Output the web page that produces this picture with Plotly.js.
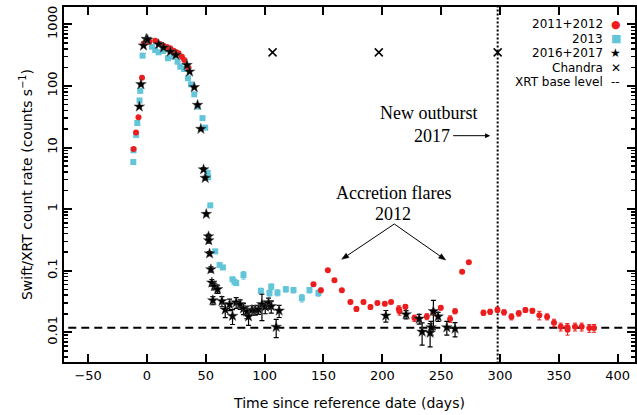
<!DOCTYPE html>
<html>
<head>
<meta charset="utf-8">
<script src="https://cdn.plot.ly/plotly-3.0.1.min.js"></script>
<style>html,body{margin:0;padding:0;background:#fff;}#chart{width:637px;height:415px;}</style>
</head>
<body>
<div id="chart"></div>
<script>
// ---- Data ----
// 2011+2012 (red circles)
const redX = [-11.4, -9.3, -7.2, -4.2, -2.9, 2.0, 7.0, 11.0, 14.1, 17.0, 19.8, 22.6, 24.5, 26.8, 29.7, 31.7, 35.3,
  141.5, 147.8, 153.7, 159.3, 165.6, 172.9, 178.0, 184.0, 189.9, 195.8, 202.1, 207.4, 214.0, 214.6, 219.6, 227.3,
  237.8, 243.4, 249.7, 257.6, 261.8, 267.8, 273.5,
  285.9, 291.6, 297.8, 303.4, 309.7, 315.9, 321.6, 327.5, 333.4, 340.0, 345.9, 351.6, 357.2, 357.4, 363.7, 369.4, 375.9, 379.9];
const redY = [9.5, 17.5, 31, 136, 490, 520, 542, 480, 450, 430, 408, 373, 355, 338, 298, 263, 197,
  0.060, 0.048, 0.102, 0.070, 0.048, 0.031, 0.024, 0.031, 0.0257, 0.030, 0.029, 0.031, 0.024, 0.022, 0.026, 0.017,
  0.018, 0.021, 0.025, 0.0165, 0.022, 0.096, 0.137,
  0.0208, 0.0216, 0.0233, 0.0211, 0.0179, 0.0203, 0.0230, 0.0224, 0.0189, 0.0179, 0.0143, 0.0123, 0.0121, 0.0110, 0.0123, 0.0123, 0.0117, 0.0117];
const redErr = [0.4, 0.6, 1, 4, 12, 12, 12, 11, 10, 10, 9, 9, 8, 8, 7, 7, 6,
  0.004, 0.004, 0.005, 0.004, 0.003, 0.002, 0.002, 0.002, 0.002, 0.002, 0.002, 0.002, 0.003, 0.003, 0.002, 0.002,
  0.002, 0.002, 0.002, 0.002, 0.002, 0.005, 0.006,
  0.002, 0.002, 0.0022, 0.002, 0.002, 0.002, 0.002, 0.002, 0.003, 0.002, 0.002, 0.0018, 0.0018, 0.002, 0.0018, 0.0018, 0.0017, 0.0017];

// 2013 (cyan squares)
const cyanX = [-11.6, -11.4, -9.2, -8.2, -6.3, -5.7, -3.7, 4.2, 7.0, 9.9, 13.6, 17.8, 22.6, 26.0, 28.3, 31.7, 34.8, 37.4, 40.2, 43.0,
  47.2, 49.5, 51.5, 52.0, 53.8, 58.0, 61.7, 64.5, 72.7, 74.4, 75.8, 82.0, 96.8, 104.1, 105.6, 110.9, 118.0, 124.5, 131.6, 138.1, 145.7];
const cyanY = [5.8, 9.0, 16, 25, 58, 83, 310, 433, 383, 351, 369, 281, 298, 247, 205, 188, 133, 106, 73, 46,
  30, 21, 3.9, 3.3, 1.15, 0.206, 0.124, 0.113, 0.0725, 0.066, 0.063, 0.085, 0.047, 0.0435, 0.055, 0.044, 0.050, 0.0485, 0.036, 0.0485, 0.0435];
const cyanErr = [0.3, 0.4, 0.6, 1, 2, 3, 8, 10, 9, 8, 8, 7, 7, 6, 5, 5, 4, 3, 2, 1.5,
  1, 0.8, 0.2, 0.2, 0.06, 0.012, 0.008, 0.007, 0.006, 0.005, 0.005, 0.012, 0.005, 0.005, 0.006, 0.005, 0.005, 0.005, 0.005, 0.005, 0.005];

// 2016+2017 (black stars)
const starX = [-6.5, -5.1, -2.9, -0.6, 0.5, 9.9, 14.1, 19.8, 24.6, 34.0, 36.2, 40.2, 43.0, 45.8, 48.1, 49.5,
  50.4, 52.3, 52.5, 53.2, 54.3, 55.1, 57.2, 60.0, 56.0, 63.7, 66.5, 70.2, 72.7, 75.8, 79.2, 82.0, 84.9, 86.3,
  89.2, 92.0, 94.8, 97.7, 100.5, 103.3, 105.6, 109.8, 112.3,
  203.0, 220.2, 231.3, 233.8, 240.6, 241.4, 243.4, 247.4, 254.8, 261.8];
const starY = [46, 106, 450, 578, 560, 473, 417, 359, 317, 218, 170, 95, 49, 20, 4.4, 3.2,
  0.83, 0.36, 0.31, 0.19, 0.105, 0.064, 0.056, 0.050, 0.033, 0.032, 0.0233, 0.0285, 0.0184, 0.0305, 0.0285, 0.0243, 0.0216, 0.018,
  0.023, 0.023, 0.0235, 0.0285, 0.026, 0.030, 0.0265, 0.0122, 0.0224,
  0.0186, 0.0195, 0.0166, 0.0102, 0.0098, 0.0120, 0.022, 0.018, 0.0120, 0.0114];
const starErr = [1, 3, 12, 15, 15, 12, 10, 9, 8, 6, 5, 3, 2, 1, 0.3, 0.2,
  0.05, 0.03, 0.03, 0.015, 0.01, 0.008, 0.007, 0.007, 0.005, 0.006, 0.006, 0.006, 0.005, 0.006, 0.005, 0.005, 0.005, 0.005,
  0.004, 0.004, 0.004, 0.013, 0.006, 0.006, 0.006, 0.004, 0.005,
  0.004, 0.003, 0.003, 0.004, 0.004, 0.003, 0.011, 0.003, 0.003, 0.003];

// Chandra observations
const chandraX = [106.7, 197.0, 298.0];
const chandraY = [350, 350, 350];

// Reference levels
const xrtBaseLevel = 0.0119;
const outburstDay = 298;

// Axis tick labels
const xTickVals = [-50, 0, 50, 100, 150, 200, 250, 300, 350, 400];
const yTickVals = [0.01, 0.1, 1, 10, 100, 1000];
const yTickText = ['0.01', '0.1', '1', '10', '100', '1000'];

// Legend labels
const legendLabels = ['2011+2012', '2013', '2016+2017', 'Chandra', 'XRT base level'];

// ---- Styling ----
const RED = '#ee1d1d';
const CYAN = '#62c5d9';
const tickFont = {family: 'DejaVu Sans', size: 13, color: '#000'};

const traces = [
  {x: [-100, 500], y: [xrtBaseLevel, xrtBaseLevel], mode: 'lines', type: 'scatter',
   line: {color: '#000', width: 2, dash: '8px,5px'}, hoverinfo: 'skip'},
  {x: [outburstDay, outburstDay], y: [0.0001, 100000], mode: 'lines', type: 'scatter',
   line: {color: '#000', width: 2, dash: '2px,2px'}, hoverinfo: 'skip'},
  {x: cyanX, y: cyanY, mode: 'markers', type: 'scatter',
   marker: {symbol: 'square', color: CYAN, size: 6},
   error_y: {type: 'data', array: cyanErr, color: CYAN, thickness: 1, width: 2}},
  {x: redX, y: redY, mode: 'markers', type: 'scatter',
   marker: {symbol: 'circle', color: RED, size: 6},
   error_y: {type: 'data', array: redErr, color: RED, thickness: 1, width: 2}},
  {x: starX, y: starY, mode: 'markers', type: 'scatter',
   marker: {symbol: 'star', color: '#000', size: 8, line: {width: 0.5, color: '#444'}},
   error_y: {type: 'data', array: starErr, color: '#000', thickness: 1.2, width: 2.5}},
  {x: chandraX, y: chandraY, mode: 'markers', type: 'scatter',
   marker: {symbol: 'x-thin-open', color: '#000', size: 8, line: {width: 1.5, color: '#000'}}}
];

// layout helpers: pixel -> paper coordinates of the plot area (64..635, 7..362)
const PL = 64, PW = 571, PB = 362, PH = 355;
const px = v => (v - PL) / PW;
const py = v => (PB - v) / PH;
function arrowShapes(x0, y0, x1, y1) {
  const dx = x1 - x0, dy = y1 - y0, len = Math.hypot(dx, dy);
  const ux = dx / len, uy = dy / len, hl = 7, hw = 2.6;
  const bx = x1 - hl * ux, by = y1 - hl * uy;
  const nx = -uy * hw, ny = ux * hw;
  return [
    {type: 'line', xref: 'paper', yref: 'paper', x0: px(x0), y0: py(y0), x1: px(bx), y1: py(by),
     line: {color: '#000', width: 1}},
    {type: 'path', xref: 'paper', yref: 'paper',
     path: `M${px(x1)},${py(y1)} L${px(bx + nx)},${py(by + ny)} L${px(bx - nx)},${py(by - ny)} Z`,
     fillcolor: '#000', line: {color: '#000', width: 0.5}}
  ];
}
const shapes = [].concat(arrowShapes(394.3, 224, 341.7, 259.3), arrowShapes(394.3, 224, 445.7, 260));

const serif = {family: 'Liberation Serif', size: 18, color: '#000'};
const legendRowsY = [0.9513, 0.9099, 0.8696, 0.8273, 0.7896];
const legendSyms = [
  {t: '●', c: RED, s: 11},
  {t: '■', c: CYAN, s: 11},
  {t: '★', c: '#000', s: 12},
  {t: '✕', c: '#000', s: 12},
  {t: '--', c: '#000', s: 12}
];
const annotations = [
  {x: 209.2, y: 0.261, xref: 'x', yref: 'y', text: 'Accretion flares', showarrow: false, font: serif},
  {x: 209.2, y: -0.08, xref: 'x', yref: 'y', text: '2012', showarrow: false, font: serif},
  {x: 239.7, y: 1.555, xref: 'x', yref: 'y', text: 'New outburst', showarrow: false, font: serif},
  {x: 291.6, y: 1.192, xref: 'x', yref: 'y', text: '2017', showarrow: true, ax: -58.5, ay: 0, font: serif,
   arrowhead: 2, arrowsize: 1, arrowwidth: 1, arrowcolor: '#000', standoff: 0, startstandoff: 2}
];
legendLabels.forEach((lab, i) => {
  annotations.push({x: 0.9475, y: legendRowsY[i], xref: 'paper', yref: 'paper', xanchor: 'right', yanchor: 'middle',
    text: lab, showarrow: false, font: {family: 'DejaVu Sans', size: 12, color: '#000'}});
  annotations.push({x: 0.9667, y: legendRowsY[i], xref: 'paper', yref: 'paper', xanchor: 'center', yanchor: 'middle',
    text: legendSyms[i].t, showarrow: false, font: {family: 'DejaVu Sans', size: legendSyms[i].s, color: legendSyms[i].c}});
});

const layout = {
  width: 637, height: 415,
  margin: {l: 64, r: 2, t: 7, b: 53, pad: 0},
  paper_bgcolor: '#fff', plot_bgcolor: '#fff',
  showlegend: false,
  font: {family: 'DejaVu Sans', color: '#000'},
  xaxis: {
    range: [-70.5, 414.7], tickvals: xTickVals, ticks: 'inside', ticklen: 8, tickwidth: 2, tickcolor: '#000',
    showline: true, linewidth: 2, linecolor: '#000', mirror: 'ticks', showgrid: false, zeroline: false,
    tickfont: tickFont,
    title: {text: 'Time since reference date (days)', font: {family: 'DejaVu Sans', size: 14, color: '#000'}, standoff: 17}
  },
  yaxis: {
    type: 'log', range: [-2.482, 3.281], tickvals: yTickVals, ticktext: yTickText, tickangle: -90,
    ticks: 'inside', ticklen: 8, tickwidth: 2, tickcolor: '#000',
    minor: {ticks: 'inside', ticklen: 4, tickwidth: 1.5, tickcolor: '#000', dtick: 'D1', showgrid: false},
    showline: true, linewidth: 2, linecolor: '#000', mirror: 'ticks', showgrid: false, zeroline: false,
    tickfont: tickFont,
    title: {text: 'Swift/XRT count rate (counts s<sup>−1</sup>)', font: {family: 'DejaVu Sans', size: 14, color: '#000'}, standoff: 9}
  },
  annotations: annotations,
  shapes: shapes
};

Plotly.newPlot('chart', traces, layout, {displayModeBar: false, staticPlot: true});
</script>
</body>
</html>
